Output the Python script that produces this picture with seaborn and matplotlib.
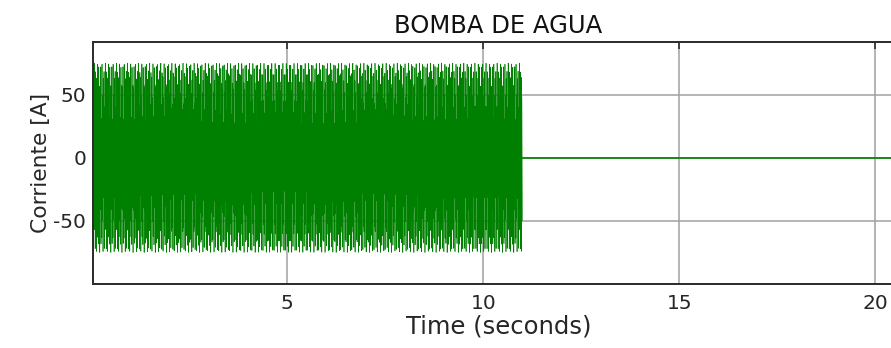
import numpy as np
import pandas as pd
import matplotlib
matplotlib.use("Agg")
import matplotlib.pyplot as plt
import seaborn as sns

# ---- data ----
title = "BOMBA DE AGUA"
x_label = "Time (seconds)"
y_label = "Corriente [A]"
x_ticks = [5, 10, 15, 20]
y_ticks = [-50, 0, 50]
x_limits = [0.048, 20.72]
y_limits = [-100, 92]

line_freq_hz = 60.0          # mains frequency of the pump current
peak_current_a = 75.0        # peak of the current waveform [A]
sample_rate_hz = 155.3       # logged sample rate of the recorded signal
pump_on_s = 0.0              # pump running from ...
pump_off_s = 11.0            # ... until the breaker opens
record_end_s = 20.72         # end of the record (current stays at 0)

# ---- build the recorded signal ----
t_on = np.arange(pump_on_s, pump_off_s, 1.0 / sample_rate_hz)
i_on = peak_current_a * np.sin(2 * np.pi * line_freq_hz * t_on)
t_off = np.array([pump_off_s, record_end_s])
i_off = np.array([0.0, 0.0])
df_on = pd.DataFrame({"t": t_on, "i": i_on})
df_off = pd.DataFrame({"t": t_off, "i": i_off})

sns.set_style("white")
plt.rcParams["font.family"] = ["DejaVu Sans"]
plt.rcParams["axes.unicode_minus"] = False

W, H = 891, 348
fig = plt.figure(figsize=(W / 100, H / 100), dpi=100)
left, right, top, bottom = 93.3, 903.3, 41.7, 284.0
ax = fig.add_axes([left / W, (H - bottom) / H, (right - left) / W, (bottom - top) / H])

sns.lineplot(data=df_on, x="t", y="i", ax=ax, color="#008000", linewidth=0.46,
             estimator=None, sort=False, legend=False)
sns.lineplot(data=df_off, x="t", y="i", ax=ax, color="#008000", linewidth=1.2,
             estimator=None, sort=False, legend=False)

ax.set_xlim(*x_limits)
ax.set_ylim(*y_limits)
ax.set_xticks(x_ticks)
ax.set_yticks(y_ticks)
ax.grid(True, color="#a0a0a0", linewidth=1.1)
ax.set_axisbelow(True)

for s in ax.spines.values():
    s.set_color("#2a2a2a")
    s.set_linewidth(1.4)

ax.tick_params(axis="both", direction="in", length=5, width=1.2, color="#2a2a2a",
               labelcolor="#262626", labelsize=14.5, top=True, right=True)
ax.tick_params(axis="x", pad=7)
ax.tick_params(axis="y", pad=5)

ax.set_title(title, fontsize=17.5, color="#111111", pad=6)
ax.set_xlabel(x_label, fontsize=17.5, color="#262626", labelpad=1)
ax.set_ylabel(y_label, fontsize=15.7, color="#262626", labelpad=2)

fig.savefig("out.png", dpi=100)
